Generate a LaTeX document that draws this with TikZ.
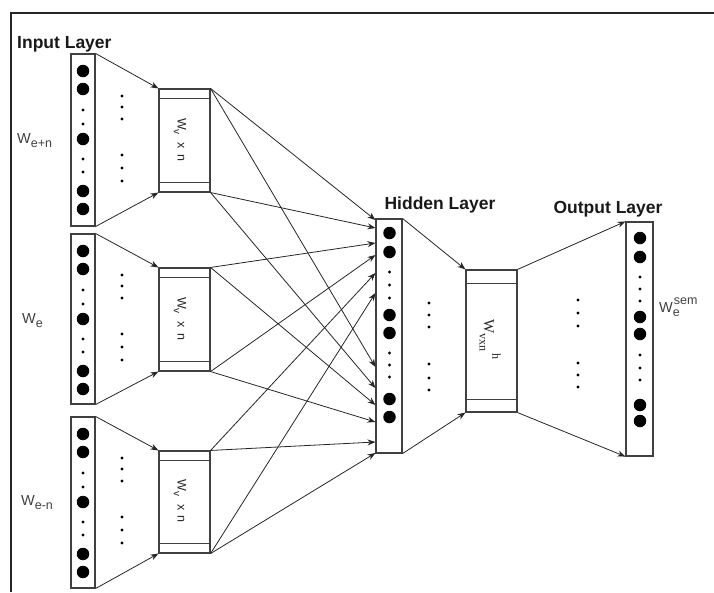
\documentclass[tikz,border=0pt]{standalone}
\usepackage{fontspec}
\setmainfont{Liberation Sans}
\newfontfamily\serifw{Liberation Serif}
\usetikzlibrary{arrows.meta,calc}
\newcommand{\mysubtxt}[2][12]{\raisebox{-0.3em}{\fontsize{#1}{#1}\selectfont #2}}
\newcommand{\mysuptxt}[2][12]{\raisebox{0.55em}{\fontsize{#1}{#1}\selectfont #2}}
\begin{document}
\begin{tikzpicture}[x=1pt,y=-1pt,
  box/.style={draw=black!75,line width=1.1pt,inner sep=0pt,fill=white},
  innerline/.style={draw=black!75,line width=1.1pt},
  conn/.style={draw=black!85,line width=0.8pt,-{Stealth[length=8pt,width=6pt]}},
  bigdot/.style={fill=black,circle,inner sep=0pt,minimum size=12.5pt},
  smalldot/.style={fill=black,circle,inner sep=0pt,minimum size=3.4pt},
  layerlbl/.style={font=\fontsize{17.5}{20}\selectfont\bfseries,text=black!90,inner sep=0pt},
  wlbl/.style={font=\fontsize{14.5}{16}\selectfont,text=black!75,inner sep=0pt,anchor=base west},
  wtext/.style={font=\fontsize{12.5}{13}\selectfont,text=black!85,inner sep=0pt,rotate=-90}
]
\useasboundingbox (0,0) rectangle (714,592);
\draw[line width=1.6pt,black!85] (11,592) -- (11,13) -- (714,13);

% input columns
\foreach \k/\T/\H/\WT/\WH in {1/54/172/89/103, 2/234/170/268/103, 3/417/171/451/102} {
  \node[box,minimum width=24pt,minimum height=\H*1pt] (in\k) at (83,\T+\H/2) {};
  \foreach \o [count=\j] in {17,35,85,137,155}
    \node[bigdot] (in\k b\j) at (83,\T+\o) {};
  \foreach \o [count=\j] in {56,70,105,118}
    \node[smalldot] (in\k s\j) at (83,\T+\o) {};
  \foreach \o [count=\j] in {7,18,30,66,79,92}
    \node[smalldot] (el\k e\j) at (122,\WT+\o) {};
  \node[box,minimum width=51pt,minimum height=\WH*1pt] (w\k) at (184.5,\WT+\WH/2) {};
  \draw[innerline] ([yshift=-10pt]w\k.north west) -- ([yshift=-10pt]w\k.north east);
  \draw[innerline] ([yshift=10pt]w\k.south west) -- ([yshift=10pt]w\k.south east);
  \node[wtext] (wt\k) at (180,\WT+\WH/2-1) {W\mysubtxt[10]{v}\hspace{8pt}x\hspace{5pt}n};
  \draw[conn] (in\k.north east) -- (w\k.north west);
  \draw[conn] (in\k.south east) -- (w\k.south west);
}

% hidden layer
\node[box,minimum width=26pt,minimum height=234pt] (hid) at (389,336) {};
\foreach \o [count=\j] in {233,252,315,333,399,417}
  \node[bigdot] (hb\j) at (389.5,\o) {};
\foreach \o [count=\j] in {272,285,298,353,365,377}
  \node[smalldot] (hs\j) at (389.5,\o) {};
\foreach \o [count=\j] in {303,315,327,364,378,390}
  \node[smalldot] (he\j) at (429,\o) {};
\node[box,minimum width=51pt,minimum height=142pt] (hW) at (491.5,341) {};
\draw[innerline] ([yshift=-14pt]hW.north west) -- ([yshift=-14pt]hW.north east);
\draw[innerline] ([yshift=13pt]hW.south west) -- ([yshift=13pt]hW.south east);
\node[rotate=-90,inner sep=0pt,text=black!85,font=\serifw\fontsize{15}{16}\selectfont] (hwt) at (490,339.5)
  {W\mysubtxt[12]{vxn}\hspace{2pt}\mysuptxt[12]{h}};

% output layer
\node[box,minimum width=27pt,minimum height=234pt] (out) at (639.5,339) {};
\foreach \o [count=\j] in {238,257,317,334,405,421}
  \node[bigdot] (ob\j) at (640,\o) {};
\foreach \o [count=\j] in {277,289,301,355,368,380}
  \node[smalldot] (os\j) at (640,\o) {};
\foreach \o [count=\j] in {300,313,326,363,375,387}
  \node[smalldot] (oe\j) at (578,\o) {};

% connections
\foreach \src/\yy [count=\j] in {w1.north east/220, w1.south east/228, w2.north east/243, w2.south east/255, w3.north east/273, w3.south east/293, w1.north east/367, w1.south east/388, w2.north east/405, w2.south east/422, w3.north east/442, w3.south east/453} {
  \coordinate (h\j) at (hid.west |- 0,\yy);
  \draw[conn] (\src) -- (h\j);
}
\draw[conn] (hid.north east) -- (hW.north west);
\draw[conn] (hid.south east) -- (hW.south west);
\draw[conn] (hW.north east) -- (out.north west);
\draw[conn] (hW.south east) -- (out.south west);

% labels
\node[layerlbl,anchor=base west] (lblIn) at (17,48) {Input Layer};
\node[layerlbl,anchor=base] (lblHid) at (440,209) {Hidden Layer};
\node[layerlbl,anchor=base] (lblOut) at (608,213) {Output Layer};
\node[wlbl] (lA) at (17,143) {W\mysubtxt[12.5]{e+n}};
\node[wlbl] (lB) at (22,323) {W\mysubtxt[12.5]{e}};
\node[wlbl] (lC) at (21,505) {W\mysubtxt[12.5]{e-n}};
\node[wlbl] (lD) at (659,312) {W\rlap{\mysubtxt[12.5]{e}}\hspace{1pt}\mysuptxt[12.5]{sem}};
\end{tikzpicture}
\end{document}
